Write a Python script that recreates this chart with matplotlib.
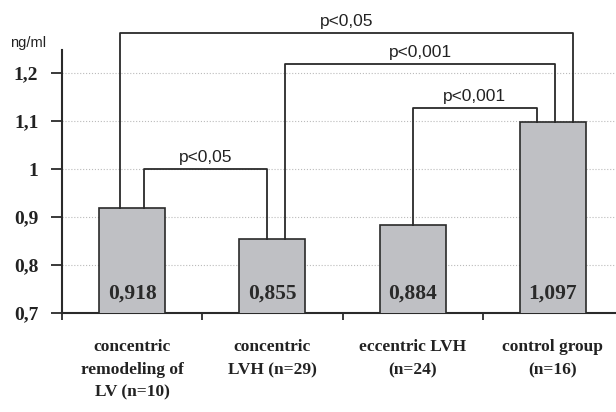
import matplotlib.pyplot as plt

# Dane z wykresu
grupy = ['concentric\nremodeling of\nLV (n=10)', 'concentric\nLVH (n=29)',
         'eccentric LVH\n(n=24)', 'control group\n(n=16)']
wartosci = [0.918, 0.855, 0.884, 1.097]
etykiety = ['0,918', '0,855', '0,884', '1,097']
y_ticki = [0.7, 0.8, 0.9, 1.0, 1.1, 1.2]
y_etykiety = ['0,7', '0,8', '0,9', '1', '1,1', '1,2']

# porownania: (grupa A, przesuniecie A, grupa B, przesuniecie B, wysokosc, tekst)
porownania = [
    (0, 0.086, 1, -0.036, 1.000, 'p<0,05'),
    (2, 0.0, 3, -0.114, 1.127, 'p<0,001'),
    (1, 0.093, 3, 0.014, 1.219, 'p<0,001'),
    (0, -0.086, 3, 0.143, 1.283, 'p<0,05'),
]

fig = plt.figure(figsize=(6.16, 4.12), dpi=100)
ax = fig.add_axes([62 / 616, 99 / 412, 554 / 616, 263 / 412])

x = range(len(grupy))
ax.bar(x, wartosci, width=0.47, bottom=0, color='#bfc0c4',
       edgecolor='#2a2a2a', linewidth=1.2, zorder=3)

for i, (v, t) in enumerate(zip(wartosci, etykiety)):
    ax.text(i, 0.729, t, ha='center', va='baseline', family='Liberation Serif',
            fontsize=15.5, fontweight='bold', color='#2a2a2a', zorder=4)

for a, da, b, db, h, t in porownania:
    xa, xb = a + da, b + db
    ax.plot([xa, xa, xb, xb], [wartosci[a], h, h, wartosci[b]],
            color='#2a2a2a', linewidth=1.3, clip_on=False, zorder=4)
    ax.text((xa + xb) / 2, h + 0.008, t, ha='center', va='bottom',
            family='Liberation Sans', fontsize=12.5, color='#222222')

ax.set_xlim(-0.5, 3.45)
ax.set_ylim(0.7, 1.248)
ax.set_yticks(y_ticki)
ax.set_yticklabels(y_etykiety, family='Liberation Serif', fontsize=14,
                   fontweight='bold', color='#222222')
ax.set_xticks(list(x))
ax.set_xticklabels(grupy, family='Liberation Serif', fontsize=12.5,
                   fontweight='bold', color='#222222', linespacing=1.55)
ax.set_xticks([-0.5, 0.5, 1.5, 2.5], minor=True)
ax.tick_params(axis='x', which='major', length=0, pad=19)
ax.tick_params(axis='x', which='minor', length=5, width=1.3, color='#2a2a2a')
ax.tick_params(axis='y', length=8, width=1.3, color='#2a2a2a', pad=9)

ax.grid(axis='y', linestyle=':', color='#bbbbbb', linewidth=0.8, zorder=0)
ax.spines['top'].set_visible(False)
ax.spines['right'].set_visible(False)
for s in ['left', 'bottom']:
    ax.spines[s].set_color('#2a2a2a')
    ax.spines[s].set_linewidth(1.5)

fig.text(10 / 616, 1 - 47 / 412, 'ng/ml', family='Liberation Sans',
         fontsize=10.5, color='#222222')

fig.savefig('out.png', dpi=100)
